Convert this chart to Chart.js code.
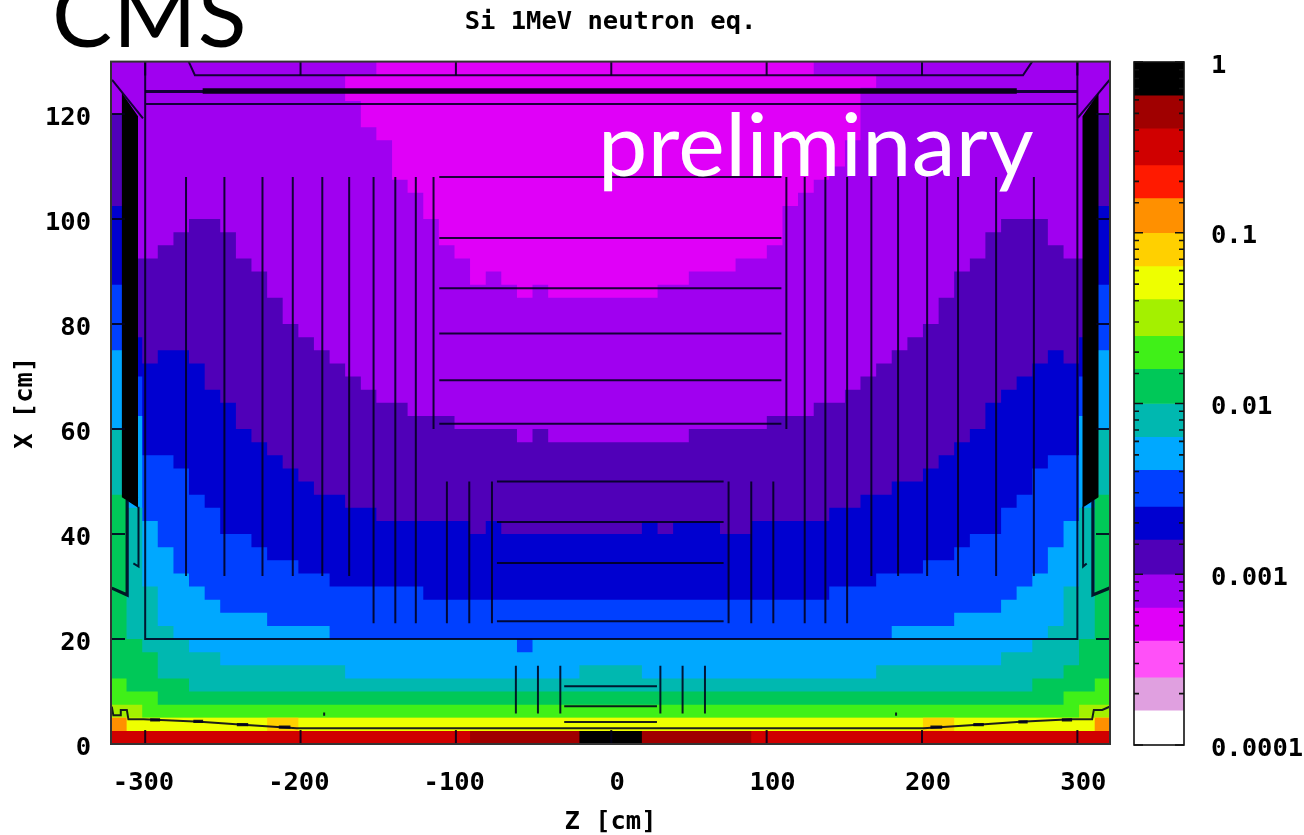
<!DOCTYPE html>
<html>
<head>
<meta charset="utf-8">
<title>Si 1MeV neutron eq.</title>
<script src="https://cdn.jsdelivr.net/npm/chart.js@4/dist/chart.umd.min.js"></script>
<style>
  html, body { margin: 0; padding: 0; background: #fff; overflow: hidden; }
  #wrap { position: relative; width: 1304px; height: 835px; overflow: hidden; }
  canvas { position: absolute; top: 0; }
  #map { left: 0; }
  #bar { left: 1133px; }
  .note { position: absolute; font-family: Lato, sans-serif; line-height: 1; white-space: nowrap; }
  #cms { left: 52px; top: -33px; font-size: 90px; color: #000; font-weight: 400; letter-spacing: 1px; }
  #prelim { left: 598px; top: 98px; font-size: 88px; color: #fff; font-weight: 400; letter-spacing: 0.4px; }
</style>
</head>
<body>
<div id="wrap">
  <canvas id="map" width="1304" height="835"></canvas>
  <canvas id="bar" width="171" height="835"></canvas>
  <div class="note" id="cms">CMS</div>
  <div class="note" id="prelim">preliminary</div>
</div>
<script>
// column edges along z [cm], 64 columns
const zEdges = [-322,-312,-301.9,-291.9,-281.8,-271.8,-261.7,-251.7,-241.6,-231.6,-221.5,-211.5,-201.4,-191.4,-181.3,-171.3,
  -161.2,-151.2,-141.1,-131.1,-121,-111,-100.9,-90.9,-80.8,-70.8,-60.7,-50.7,-40.6,-30.6,-20.5,-10.5,
  -0.4,9.7,19.7,29.8,39.8,49.9,59.9,70,80,90.1,100.1,110.2,120.2,130.3,
  140.3,150.4,160.4,170.5,180.5,190.6,200.6,210.7,220.7,230.8,240.8,250.9,260.9,271,281,291.1,301.1,311.2,321.2];

// upper edge of each colour band in every column, x [cm]
const topBlack = [0,0,0,0,0,0,0,0,0,0,0,0,0,0,0,0,0,0,0,0,0,0,0,0,0,0,0,0,0,0,2.5,2.5,2.5,2.5,0,0,0,0,0,0,0,0,0,0,0,0,0,0,0,0,0,0,0,0,0,0,0,0,0,0,0,0,0,0];
const topDarkRed = [0,0,0,0,0,0,0,0,0,0,0,0,0,0,0,0,0,0,0,0,0,0,0,2.5,2.5,2.5,2.5,2.5,2.5,2.5,2.5,2.5,2.5,2.5,2.5,2.5,2.5,2.5,2.5,2.5,2.5,0,0,0,0,0,0,0,0,0,0,0,0,0,0,0,0,0,0,0,0,0,0,0];
const topCrimson = [2.5,2.5,2.5,2.5,2.5,2.5,2.5,2.5,2.5,2.5,2.5,2.5,2.5,2.5,2.5,2.5,2.5,2.5,2.5,2.5,2.5,2.5,2.5,2.5,2.5,2.5,2.5,2.5,2.5,2.5,2.5,2.5,2.5,2.5,2.5,2.5,2.5,2.5,2.5,2.5,2.5,2.5,2.5,2.5,2.5,2.5,2.5,2.5,2.5,2.5,2.5,2.5,2.5,2.5,2.5,2.5,2.5,2.5,2.5,2.5,2.5,2.5,2.5,2.5];
const topOrange = [5,2.5,2.5,2.5,2.5,2.5,2.5,2.5,2.5,2.5,2.5,2.5,2.5,2.5,2.5,2.5,2.5,2.5,2.5,2.5,2.5,2.5,2.5,2.5,2.5,2.5,2.5,2.5,2.5,2.5,2.5,2.5,2.5,2.5,2.5,2.5,2.5,2.5,2.5,2.5,2.5,2.5,2.5,2.5,2.5,2.5,2.5,2.5,2.5,2.5,2.5,2.5,2.5,2.5,2.5,2.5,2.5,2.5,2.5,2.5,2.5,2.5,2.5,5];
const topGold = [5,2.5,2.5,2.5,2.5,2.5,2.5,2.5,2.5,2.5,5,5,2.5,2.5,2.5,2.5,2.5,2.5,2.5,2.5,2.5,2.5,2.5,2.5,2.5,2.5,2.5,2.5,2.5,2.5,2.5,2.5,2.5,2.5,2.5,2.5,2.5,2.5,2.5,2.5,2.5,2.5,2.5,2.5,2.5,2.5,2.5,2.5,2.5,2.5,2.5,2.5,5,5,2.5,2.5,2.5,2.5,2.5,2.5,2.5,2.5,2.5,5];
const topYellow = [5,5,5,5,5,5,5,5,5,5,5,5,5,5,5,5,5,5,5,5,5,5,5,5,5,5,5,5,5,5,5,5,5,5,5,5,5,5,5,5,5,5,5,5,5,5,5,5,5,5,5,5,5,5,5,5,5,5,5,5,5,5,5,5];
const topChartreuse = [7.5,7.5,5,5,5,5,5,5,5,5,5,5,5,5,5,5,5,5,5,5,5,5,5,5,5,5,5,5,5,5,5,5,5,5,5,5,5,5,5,5,5,5,5,5,5,5,5,5,5,5,5,5,5,5,5,5,5,5,5,5,5,5,7.5,7.5];
const topLime = [12.5,10,10,7.5,7.5,7.5,7.5,7.5,7.5,7.5,7.5,7.5,7.5,7.5,7.5,7.5,7.5,7.5,7.5,7.5,7.5,7.5,7.5,7.5,7.5,7.5,7.5,7.5,7.5,7.5,7.5,7.5,7.5,7.5,7.5,7.5,7.5,7.5,7.5,7.5,7.5,7.5,7.5,7.5,7.5,7.5,7.5,7.5,7.5,7.5,7.5,7.5,7.5,7.5,7.5,7.5,7.5,7.5,7.5,7.5,7.5,10,10,12.5];
const topGreen = [47.5,20,17.5,12.5,12.5,10,10,10,10,10,10,10,10,10,10,10,10,10,10,10,10,10,10,10,10,10,10,10,10,10,10,10,10,10,10,10,10,10,10,10,10,10,10,10,10,10,10,10,10,10,10,10,10,10,10,10,10,10,10,12.5,12.5,15,20,47.5];
const topTeal = [60,45,30,22.5,20,17.5,17.5,15,15,15,15,15,15,15,15,12.5,12.5,12.5,12.5,12.5,12.5,12.5,12.5,12.5,12.5,12.5,12.5,12.5,12.5,12.5,15,15,15,15,12.5,12.5,12.5,12.5,12.5,12.5,12.5,12.5,12.5,12.5,12.5,12.5,12.5,12.5,12.5,15,15,15,15,15,15,15,15,17.5,17.5,20,22.5,30,45,60];
const topLightBlue = [75,62.5,42.5,37.5,32.5,30,27.5,25,25,25,22.5,22.5,22.5,22.5,20,20,20,20,20,20,20,20,20,20,20,20,17.5,20,20,20,20,20,20,20,20,20,20,20,20,20,20,20,20,20,20,20,20,20,20,20,22.5,22.5,22.5,22.5,25,25,25,27.5,30,32.5,37.5,42.5,62.5,75];
const topBlue = [87.5,70,55,55,52.5,47.5,45,40,40,37.5,35,35,32.5,32.5,30,30,30,30,30,30,27.5,27.5,27.5,27.5,27.5,27.5,27.5,27.5,27.5,27.5,27.5,27.5,27.5,27.5,27.5,27.5,27.5,27.5,27.5,27.5,27.5,27.5,27.5,27.5,27.5,27.5,30,30,30,32.5,32.5,32.5,35,35,37.5,40,40,45,47.5,52.5,55,55,70,87.5];
const topNavy = [102.5,77.5,72.5,75,75,72.5,67.5,65,60,57.5,55,52.5,50,47.5,47.5,45,45,42.5,42.5,42.5,42.5,42.5,42.5,40,42.5,40,40,40,40,40,40,40,40,40,42.5,40,42.5,42.5,42.5,40,40,42.5,42.5,42.5,42.5,42.5,45,45,47.5,47.5,50,50,52.5,55,57.5,60,65,67.5,70,72.5,75,72.5,77.5,102.5];
const topIndigo = [120,92.5,92.5,95,97.5,100,100,97.5,92.5,90,85,80,77.5,75,72.5,70,67.5,65,65,62.5,62.5,62.5,60,60,60,60,57.5,60,57.5,57.5,57.5,57.5,57.5,57.5,57.5,57.5,57.5,60,60,60,60,60,62.5,62.5,62.5,65,65,67.5,70,72.5,75,77.5,80,85,90,92.5,97.5,100,100,100,95,92.5,92.5,120];
const topPurple = [130,130,130,130,130,130,130,130,130,130,130,130,130,130,130,122.5,117.5,115,107.5,105,100,95,92.5,87.5,90,87.5,85,87.5,85,85,85,85,85,85,85,87.5,87.5,90,90,90,92.5,92.5,95,102.5,105,107.5,110,115,125,130,130,130,130,130,130,130,130,130,130,130,130,130,130,130];
const topMagenta = [130,130,130,130,130,130,130,130,130,130,130,130,130,130,130,130,130,130,130,130,130,130,130,130,130,130,130,130,130,130,130,130,130,130,130,130,130,130,130,130,130,130,130,130,130,130,130,130,130,130,130,130,130,130,130,130,130,130,130,130,130,130,130,130];
// lower edge of the purple strip along the top of the plot
const bottomTopStrip = [127.5,127.5,127.5,127.5,127.5,127.5,127.5,127.5,127.5,127.5,127.5,127.5,127.5,127.5,127.5,127.5,127.5,130,130,130,130,130,130,130,130,130,130,130,130,130,130,130,130,130,130,130,130,130,130,130,130,130,130,130,130,127.5,127.5,127.5,127.5,127.5,127.5,127.5,127.5,127.5,127.5,127.5,127.5,127.5,127.5,127.5,127.5,127.5,127.5,127.5];

// detector outline, z and x in cm
const outerLongZ = [-273.7,-249,-224.5,-205,-186,-168.7,167.4,184.6,203.3,223.2,247.7,272];
const outerShortZ = [-153,-139,-125.8,124.5,137.8,151.8];
const outerEndZ = [-114.4,112.7];
const midDiskZ = [-105.8,-91.4,-76.8,75.5,90.1,104.3];
const pixelDiskZ = [-61.4,-47.2,-32.8,31.6,45.9,60.3];
const outerLayerX = [108,96.4,86.8,78.2,69.3,61];
const midLayerX = [50,42.3,34.5,23.4];
const pixelLayerX = [11,7.2,4.2];
const outline = [
  [[-300,130],[-300,20],[300,20],[300,130]],
  [[-300,121.9],[300,121.9]],
  [[-272,130],[-268,127.4],[265,127.4],[270.9,130]],
  [[-321.3,126.5],[-301.4,119.2]],
  [[300,119.2],[320.7,126.5]],
  [[-304.3,45.2],[-304.3,33.8],[-307.6,34.4]],
  [[303.7,45.2],[303.7,33.8],[306,34.4]],
  [[-321.5,7.1],[-320.5,5.5],[-316,5.5],[-315.7,6.5],[-311.8,6.5],[-310.8,4.7],[-301,4.7],[-264.6,4.25],[-234.6,3.6],[-202.4,3],
   [201,3],[233.3,3.6],[263.4,4.25],[295.6,4.7],[309.5,4.7],[310.6,6.5],[316,6.5],[320.7,7.1]],
  [[-184.8,5.4],[-184.8,6]],
  [[183.3,5.4],[183.3,6]]
];
const outlineThick = [
  [[-300,124.3],[300,124.3]],
  [[-311.6,46.5],[-311.6,28.4],[-321.5,29.7]],
  [[310,46.5],[310,28.4],[320.7,29.7]],
  [[-296.8,4.6],[-290.4,4.6]],[[-269,4.3],[-262.7,4.3]],[[-241,3.7],[-233.7,3.7]],[[-214,3.2],[-206.5,3.2]],
  [[205.4,3.2],[213,3.2]],[[233,3.7],[239.8,3.7]],[[262,4.2],[268,4.2]],[[290,4.6],[296.6,4.6]]
];
const outlineHeavy = [
  [[-263,124.4],[261,124.4]]
];
const endcapLeft = [[-315,124],[-304.6,119.6],[-304.6,45],[-315,47],[-315,124]];
const endcapRight = [[313.6,124],[303.3,119.6],[303.3,45],[313.6,47],[313.6,124]];

// colour scale
const levels = [1,0.64,0.41,0.25,0.16,0.1,0.064,0.041,0.025,0.016,0.01,0.0064,0.0041,0.0025,0.0016,0.001,0.00064,0.00041,0.00025,0.00016,0.0001];
const levelColors = ['#000000','#a00000','#d00000','#ff1a00','#ff9000','#ffd000','#eeff00','#a4f000','#40f018','#00c858','#00b8b0','#00a8ff','#0040ff','#0000d0','#5000b8','#a000f0','#e000f8','#ff50f8','#e0a0e0','#ffffff'];

const tickFont = { family: '"DejaVu Sans Mono"', size: 25.5, weight: 'bold' };
const lineColor = 'rgba(0,0,30,0.88)';

const stepPoints = tops => tops.map((y, i) => ({ x: zEdges[i], y })).concat({ x: zEdges[64], y: tops[63] });
const toPoints = paths => paths.flatMap(p => p.map(([x, y]) => ({ x, y })).concat({ x: p[0][0], y: null }));

const band = (tops, color) => ({ data: stepPoints(tops), stepped: true, borderWidth: 0, backgroundColor: color, fill: 'origin' });

const thinPaths = outline.concat(
  outerLongZ.map(z => [[z, 108], [z, 32]]),
  outerShortZ.map(z => [[z, 108], [z, 23]]),
  outerEndZ.map(z => [[z, 108], [z, 60]]),
  midDiskZ.map(z => [[z, 50], [z, 23]]),
  pixelDiskZ.map(z => [[z, 14.9], [z, 5.8]]),
  outerLayerX.map(x => [[-110.7, x], [109.5, x]]),
  midLayerX.map(x => [[-73.6, x], [72.3, x]]),
  pixelLayerX.map(x => [[-30.3, x], [29.4, x]])
);

// gnuplot style: ticks inside the frame on all four sides
const frameTicks = {
  id: 'frameTicks',
  afterDatasetsDraw(chart) {
    const { ctx, chartArea: a, scales } = chart;
    ctx.save();
    ctx.strokeStyle = lineColor;
    ctx.lineWidth = 2;
    ctx.beginPath();
    scales.x.ticks.forEach(t => {
      const px = scales.x.getPixelForValue(t.value);
      ctx.moveTo(px, a.top); ctx.lineTo(px, a.top + 14);
      ctx.moveTo(px, a.bottom); ctx.lineTo(px, a.bottom - 14);
    });
    scales.y.ticks.forEach(t => {
      const py = scales.y.getPixelForValue(t.value);
      ctx.moveTo(a.left, py); ctx.lineTo(a.left + 14, py);
      ctx.moveTo(a.right, py); ctx.lineTo(a.right - 14, py);
    });
    ctx.stroke();
    ctx.strokeStyle = '#333';
    ctx.strokeRect(a.left, a.top, a.right - a.left, a.bottom - a.top);
    ctx.restore();
  }
};

new Chart(document.getElementById('map'), {
  type: 'line',
  data: {
    datasets: [
      { data: toPoints(outlineHeavy), borderColor: '#08001a', borderWidth: 5.5 },
      { data: toPoints(outlineThick), borderColor: lineColor, borderWidth: 3.2 },
      { data: toPoints(thinPaths), borderColor: lineColor, borderWidth: 2 },
      { data: endcapLeft.map(([x, y]) => ({ x, y })), borderWidth: 0, backgroundColor: '#000', fill: 'shape' },
      { data: endcapRight.map(([x, y]) => ({ x, y })), borderWidth: 0, backgroundColor: '#000', fill: 'shape' },
      { data: stepPoints(bottomTopStrip), stepped: true, borderWidth: 0, backgroundColor: levelColors[15], fill: 'end' },
      band(topBlack, levelColors[0]),
      band(topDarkRed, levelColors[1]),
      band(topCrimson, levelColors[2]),
      band(topOrange, levelColors[4]),
      band(topGold, levelColors[5]),
      band(topYellow, levelColors[6]),
      band(topChartreuse, levelColors[7]),
      band(topLime, levelColors[8]),
      band(topGreen, levelColors[9]),
      band(topTeal, levelColors[10]),
      band(topLightBlue, levelColors[11]),
      band(topBlue, levelColors[12]),
      band(topNavy, levelColors[13]),
      band(topIndigo, levelColors[14]),
      band(topPurple, levelColors[15]),
      band(topMagenta, levelColors[16])
    ]
  },
  options: {
    responsive: false,
    animation: false,
    events: [],
    layout: { padding: { right: 194 } },
    elements: { point: { radius: 0 }, line: { tension: 0 } },
    plugins: {
      legend: { display: false },
      tooltip: { enabled: false },
      title: {
        display: true,
        text: 'Si 1MeV neutron eq.',
        fullSize: false,
        color: '#000',
        font: { ...tickFont, lineHeight: 1.2 },
        padding: { top: 7, bottom: 24 }
      }
    },
    scales: {
      x: {
        type: 'linear',
        min: -322,
        max: 321,
        grid: { display: false },
        border: { display: false },
        afterFit: s => { s.height = 91; },
        ticks: {
          stepSize: 100,
          includeBounds: false,
          maxRotation: 0,
          color: '#000',
          font: tickFont,
          padding: 16,
          labelOffset: 6,
          callback: v => (v < 0 ? v + ' ' : String(v))
        },
        title: {
          display: true,
          text: 'Z [cm]',
          color: '#000',
          font: { ...tickFont, lineHeight: 1 },
          padding: 0
        }
      },
      y: {
        type: 'linear',
        min: 0,
        max: 130,
        grid: { display: false },
        border: { display: false },
        afterFit: s => { s.width = 111; },
        ticks: {
          stepSize: 20,
          includeBounds: false,
          color: '#000',
          font: tickFont,
          padding: 12,
          labelOffset: 4
        },
        title: {
          display: true,
          text: 'X [cm]',
          color: '#000',
          font: { ...tickFont, lineHeight: 1 },
          padding: { top: 12.5, bottom: 0 }
        }
      }
    }
  },
  plugins: [frameTicks]
});

// colour bar, log axis
const barTicks = {
  id: 'barTicks',
  afterDatasetsDraw(chart) {
    const { ctx, chartArea: a, scales } = chart;
    ctx.save();
    ctx.strokeStyle = '#111';
    ctx.lineWidth = 1.6;
    ctx.beginPath();
    scales.y.ticks.forEach(t => {
      const py = scales.y.getPixelForValue(t.value);
      const len = t.major ? 9 : 5;
      ctx.moveTo(a.left, py); ctx.lineTo(a.left + len, py);
      ctx.moveTo(a.right, py); ctx.lineTo(a.right - len, py);
    });
    ctx.stroke();
    ctx.strokeRect(a.left, a.top, a.right - a.left, a.bottom - a.top);
    ctx.restore();
  }
};

new Chart(document.getElementById('bar'), {
  type: 'bar',
  data: {
    labels: [''],
    datasets: levelColors.map((c, i) => ({
      data: [[levels[i + 1], levels[i]]],
      backgroundColor: c,
      barPercentage: 1,
      categoryPercentage: 1,
      grouped: false
    }))
  },
  options: {
    responsive: false,
    animation: false,
    events: [],
    layout: { padding: { left: 1, top: 62, bottom: 90 } },
    plugins: { legend: { display: false }, tooltip: { enabled: false } },
    scales: {
      x: { display: false },
      y: {
        type: 'logarithmic',
        position: 'right',
        min: 0.0001,
        max: 1,
        grid: { display: false },
        border: { display: false },
        afterFit: s => { s.width = 120; },
        ticks: {
          autoSkip: false,
          color: '#000',
          font: tickFont,
          padding: 19,
          labelOffset: 4,
          callback: (v, i, ticks) => (ticks[i].major ? String(v) : '')
        }
      }
    }
  },
  plugins: [barTicks]
});
</script>
</body>
</html>
